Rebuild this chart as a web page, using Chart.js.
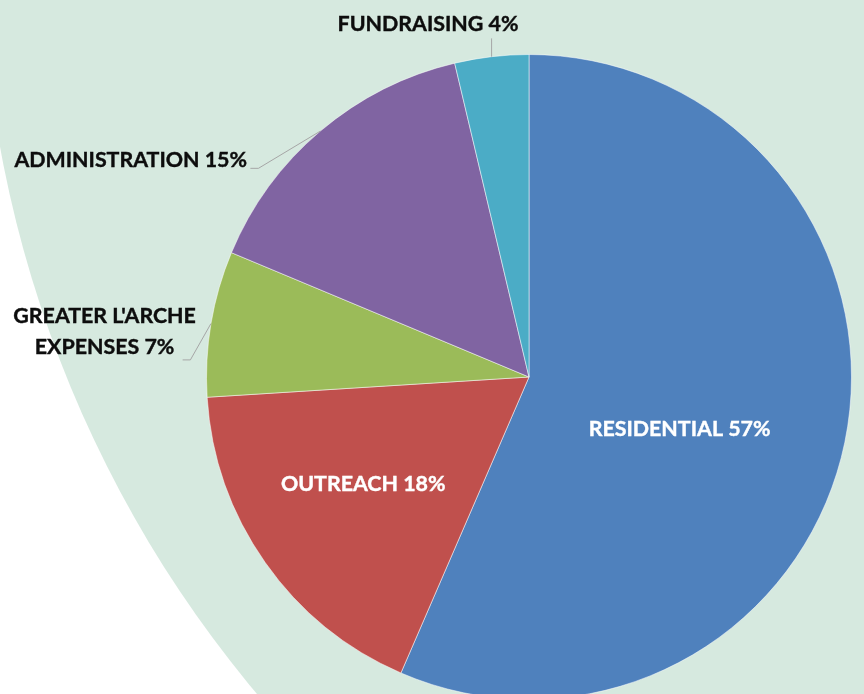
<!DOCTYPE html>
<html>
<head>
<meta charset="utf-8">
<script src="https://cdn.jsdelivr.net/npm/chart.js@4"></script>
<style>
  html, body { margin: 0; padding: 0; background: #ffffff; overflow: hidden; }
  #wrap { position: relative; width: 864px; height: 694px; overflow: hidden; }
  #inner { position: absolute; left: 0; top: 0; width: 864px; height: 720px; }
</style>
</head>
<body>
<div id="wrap"><div id="inner"><canvas id="c" width="864" height="720"></canvas></div></div>
<script>
// ---- data ----
const categories = ['RESIDENTIAL', 'OUTREACH', "GREATER L'ARCHE EXPENSES", 'ADMINISTRATION', 'FUNDRAISING'];
const values = [56.5, 17.5, 7.3, 15.0, 3.7];
const colors = ['#4F81BD', '#C0504D', '#9BBB59', '#8064A2', '#4BACC6'];

// label layout, in units of the pie radius relative to the pie centre
const labelPos = [
  { x: 0.467, y: 0.161, color: '#FFFFFF' },
  { x: -0.514, y: 0.331, color: '#FFFFFF' },
  { x: -1.316, y: -0.142, color: '#0D0D0D', wrapAt: 15, leader: [[-1.050, -0.053], [-1.074, -0.053]] },
  { x: -1.235, y: -0.672, color: '#0D0D0D', leader: [[-0.839, -0.647], [-0.864, -0.647]] },
  { x: -0.313, y: -1.093, color: '#0D0D0D', leader: [['edge', -1.050]] }
];
const FONT = 'bold 21.4px Lato';
const LINE_H = 31;

const bgPlugin = {
  id: 'bgShape',
  beforeDraw(chart) {
    const ctx = chart.ctx;
    ctx.save();
    ctx.fillStyle = '#D6E9DF';
    ctx.beginPath();
    ctx.arc(1160, -64, 1179, 0, Math.PI * 2);
    ctx.fill();
    ctx.restore();
  }
};

const labelPlugin = {
  id: 'sliceLabels',
  afterDatasetsDraw(chart) {
    const ctx = chart.ctx;
    const meta = chart.getDatasetMeta(0);
    const arcs = meta.data;
    ctx.save();
    arcs.forEach((arc, i) => {
      const cx = arc.x, cy = arc.y, R = arc.outerRadius;
      const L = labelPos[i];
      const mid = (arc.startAngle + arc.endAngle) / 2;
      if (L.leader) {
        const ex = cx + Math.cos(mid) * R, ey = cy + Math.sin(mid) * R;
        ctx.strokeStyle = '#A6A6A6';
        ctx.lineWidth = 1;
        ctx.beginPath();
        ctx.moveTo(ex, ey);
        L.leader.forEach(p => {
          const px = p[0] === 'edge' ? ex : cx + p[0] * R;
          const py = cy + p[1] * R;
          ctx.lineTo(px, py);
        });
        ctx.stroke();
      }
      const text = categories[i] + ' ' + Math.round(values[i]) + '%';
      const lines = L.wrapAt ? [text.slice(0, L.wrapAt), text.slice(L.wrapAt + 1)] : [text];
      ctx.font = FONT;
      ctx.fillStyle = L.color;
      ctx.strokeStyle = L.color;
      ctx.lineWidth = 0.4;
      ctx.textAlign = 'center';
      ctx.textBaseline = 'middle';
      const tx = cx + L.x * R, ty = cy + L.y * R;
      lines.forEach((ln, k) => {
        const yy = ty + (k - (lines.length - 1) / 2) * LINE_H;
        ctx.fillText(ln, tx, yy);
        ctx.strokeText(ln, tx, yy);
      });
    });
    ctx.restore();
  }
};

new Chart(document.getElementById('c'), {
  type: 'pie',
  data: {
    labels: categories,
    datasets: [{
      data: values,
      backgroundColor: colors,
      borderColor: 'rgba(255,255,255,0.5)',
      borderWidth: 1
    }]
  },
  options: {
    responsive: false,
    animation: false,
    rotation: 0,
    layout: { padding: { left: 206, right: 12, top: 54, bottom: 20 } },
    plugins: { legend: { display: false }, tooltip: { enabled: false } }
  },
  plugins: [bgPlugin, labelPlugin]
});
</script>
</body>
</html>
